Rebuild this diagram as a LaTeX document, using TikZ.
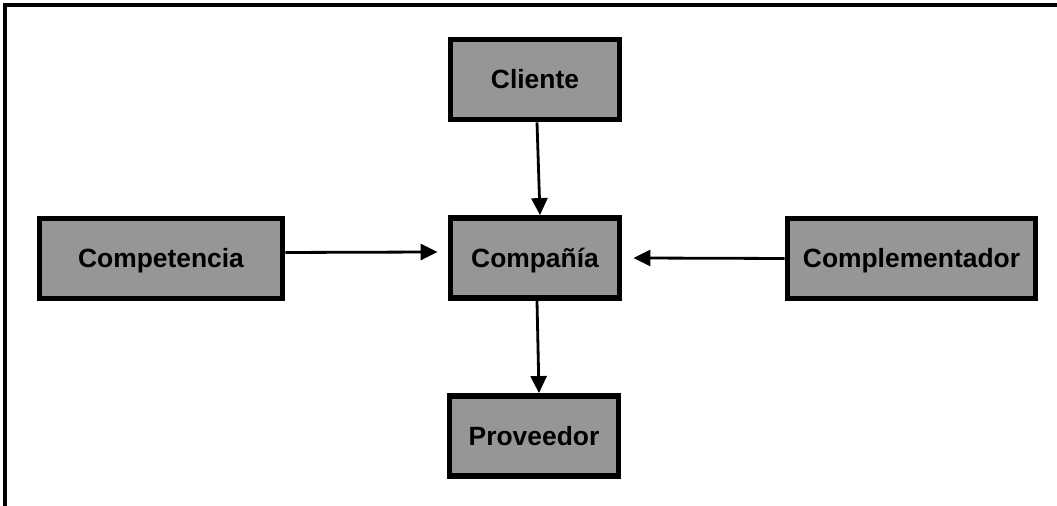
\documentclass[tikz,border=0pt]{standalone}
\usepackage{fontspec}
\setmainfont{Liberation Sans}
\usetikzlibrary{arrows.meta}
\definecolor{boxgray}{RGB}{150,150,150}

\begin{document}
\begin{tikzpicture}[x=0.5pt,y=0.5pt,font=\fontsize{13.2}{15}\selectfont\bfseries,
  b/.style={draw,fill=boxgray,line width=2.9pt,minimum height=40pt,inner sep=0pt,text height=9.4pt,text depth=0pt,align=center},
  flecha/.style={line width=1.4pt,-{Triangle[length=8.5pt,width=8pt]}}]
\useasboundingbox (0,0) rectangle (1057,506);
\draw[line width=1.8pt] (1057,500.7)--(5.3,500.7)--(5.3,0);
\node[b,minimum width=84.5pt] (cli) at (535,426.5) {Cliente};
\node[b,minimum width=84.5pt] (comp) at (535,248) {Compañía};
\node[b,minimum width=84.5pt] (prov) at (534,70) {Proveedor};
\node[b,minimum width=121.5pt] (compet) at (161,247.5) {Competencia};
\node[b,minimum width=124pt] (compl) at (911.5,247.5) {Complementador};
\draw[flecha] ([xshift=1pt]cli.south) -- ([xshift=2.5pt]comp.north);
\draw[flecha] ([xshift=1pt]comp.south) -- ([xshift=2.5pt]prov.north);
\draw[flecha] ([yshift=3pt]compet.east) -- ([yshift=3pt,xshift=-5pt]comp.west);
\draw[flecha] (compl.west) -- ([xshift=5.5pt]comp.east);
\end{tikzpicture}
\end{document}
